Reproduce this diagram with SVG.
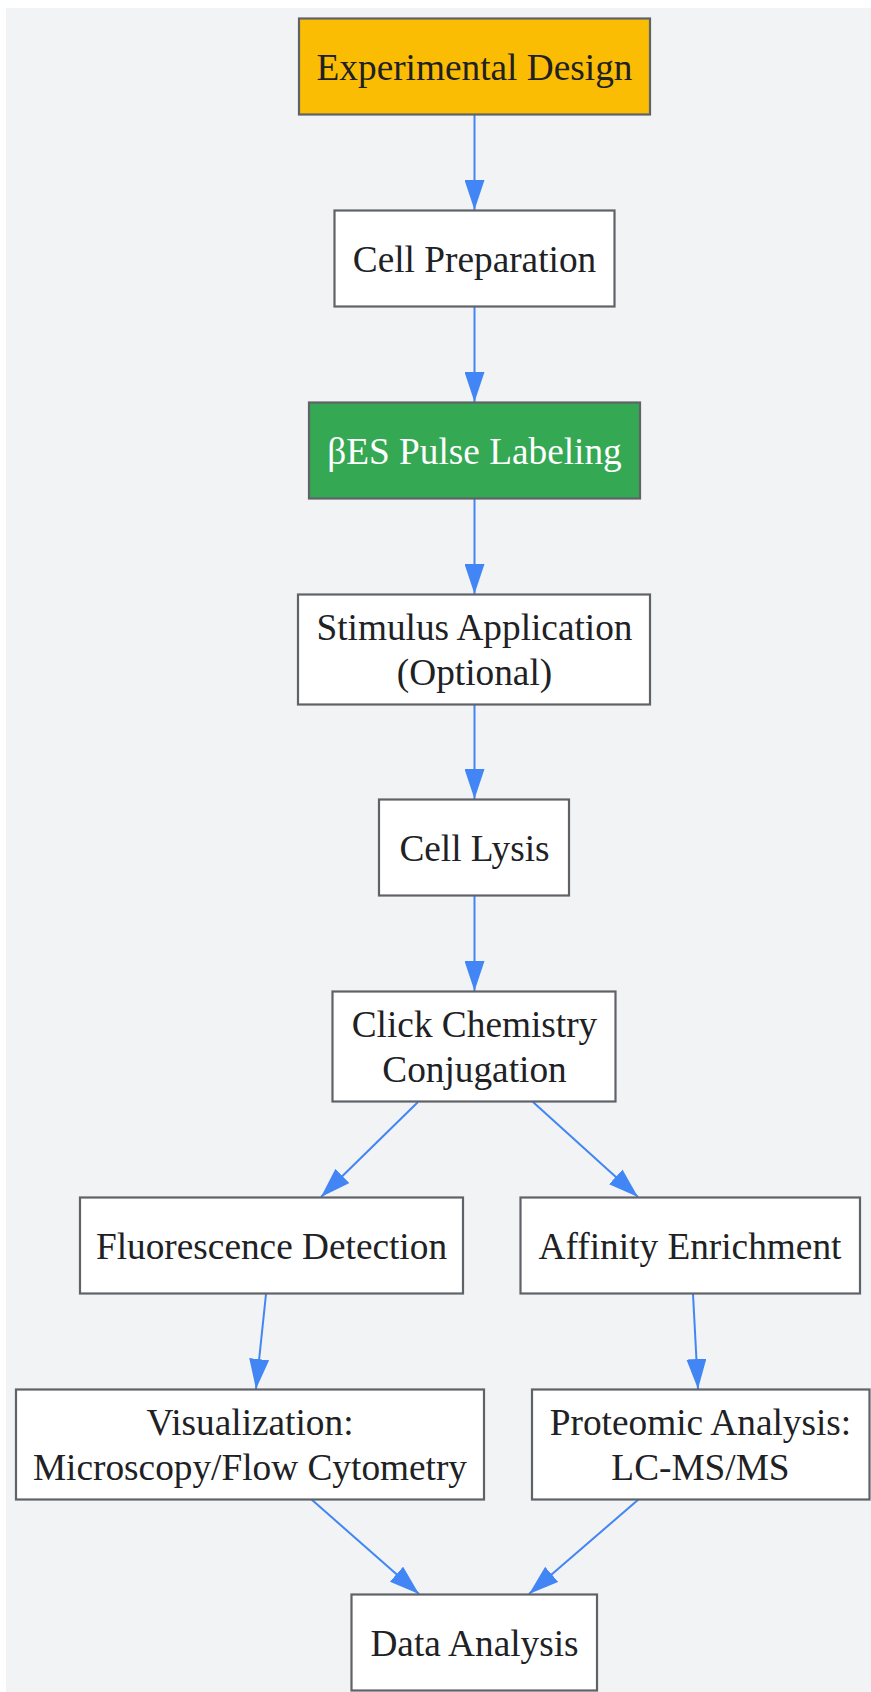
<svg xmlns="http://www.w3.org/2000/svg" width="871" height="1692" viewBox="0 0 871 1692">
<style>
.bg{fill:#f1f3f4}
.n{fill:#ffffff;stroke:#5f6368;stroke-width:2.2}
.t{font-family:"Liberation Serif","Times New Roman",serif;font-size:37.3px;fill:#202124;text-anchor:middle}
.e{stroke:#4285f4;stroke-width:2;fill:none;marker-end:url(#ah)}
</style>
<defs>
<marker id="ah" markerUnits="userSpaceOnUse" markerWidth="30" markerHeight="20" refX="30" refY="10" orient="auto" viewBox="0 0 30 20">
<path d="M0,0 L30,10 L0,20 z" fill="#4285f4"/>
</marker>
</defs>
<rect x="0" y="0" width="871" height="1692" fill="#ffffff"/>
<rect class="bg" x="6" y="8" width="865" height="1684"/>
<g id="connectors">
<line class="e" x1="474.5" y1="115" x2="474.5" y2="210"/>
<line class="e" x1="474.5" y1="307" x2="474.5" y2="402"/>
<line class="e" x1="474.5" y1="499" x2="474.5" y2="594"/>
<line class="e" x1="474.5" y1="705" x2="474.5" y2="799"/>
<line class="e" x1="474.5" y1="896" x2="474.5" y2="991"/>
<line class="e" x1="418" y1="1102" x2="321" y2="1197"/>
<line class="e" x1="533" y1="1102" x2="638" y2="1197"/>
<line class="e" x1="266" y1="1294" x2="256" y2="1389"/>
<line class="e" x1="693" y1="1294" x2="698" y2="1389"/>
<line class="e" x1="311" y1="1499" x2="419" y2="1594"/>
<line class="e" x1="639" y1="1499" x2="529" y2="1594"/>
</g>
<g id="n1"><rect class="n" x="299" y="18.5" width="351" height="96" style="fill:#fbbc04"/><text class="t" x="474.5" y="79.5">Experimental Design</text></g>
<g id="n2"><rect class="n" x="334.5" y="210.5" width="280" height="96"/><text class="t" x="474.5" y="271.5">Cell Preparation</text></g>
<g id="n3"><rect class="n" x="309" y="402.5" width="331" height="96" style="fill:#34a853"/><text class="t" x="474.5" y="463.5" style="fill:#ffffff">βES Pulse Labeling</text></g>
<g id="n4"><rect class="n" x="298" y="594.5" width="352" height="110"/><text class="t" x="474.5" y="640">Stimulus Application</text><text class="t" x="474.5" y="685">(Optional)</text></g>
<g id="n5"><rect class="n" x="379" y="799.5" width="190" height="96"/><text class="t" x="474.5" y="860.5">Cell Lysis</text></g>
<g id="n6"><rect class="n" x="332.5" y="991.5" width="283" height="110"/><text class="t" x="474.5" y="1037">Click Chemistry</text><text class="t" x="474.5" y="1082">Conjugation</text></g>
<g id="n7"><rect class="n" x="80" y="1197.5" width="383" height="96"/><text class="t" x="271.5" y="1258.5">Fluorescence Detection</text></g>
<g id="n8"><rect class="n" x="520.5" y="1197.5" width="339.5" height="96"/><text class="t" x="690" y="1258.5">Affinity Enrichment</text></g>
<g id="n9"><rect class="n" x="16" y="1389.5" width="468" height="110"/><text class="t" x="250" y="1435">Visualization:</text><text class="t" x="250" y="1480">Microscopy/Flow Cytometry</text></g>
<g id="n10"><rect class="n" x="532" y="1389.5" width="337.5" height="110"/><text class="t" x="700.5" y="1435">Proteomic Analysis:</text><text class="t" x="700.5" y="1480">LC-MS/MS</text></g>
<g id="n11"><rect class="n" x="351.5" y="1594.5" width="245.5" height="96"/><text class="t" x="474.5" y="1655.5">Data Analysis</text></g>
</svg>
